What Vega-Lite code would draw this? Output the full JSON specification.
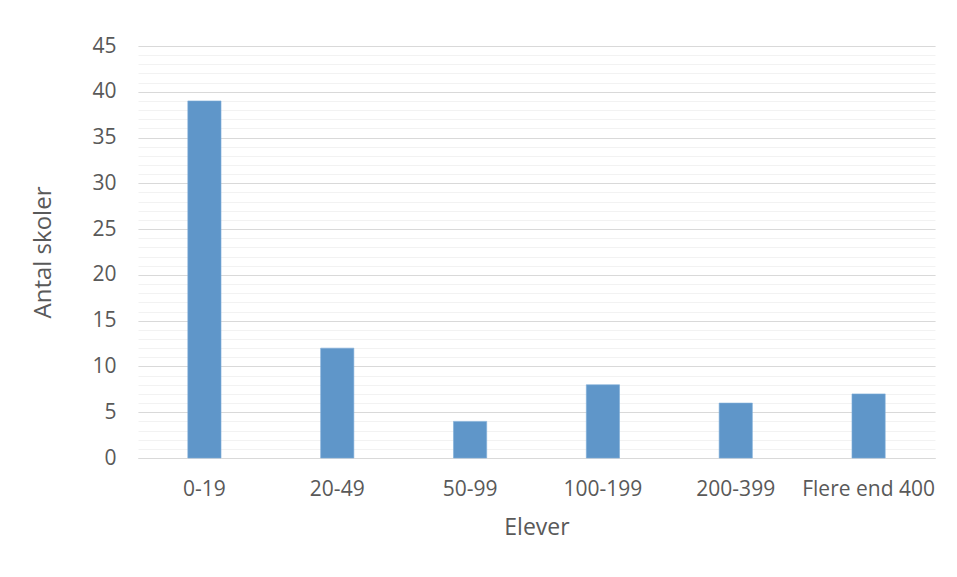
{
  "$schema": "https://vega.github.io/schema/vega-lite/v6.json",
  "autosize": {"type": "none"},
  "width": 797,
  "height": 412,
  "padding": {"left": 138, "top": 46, "right": 22, "bottom": 119},
  "background": "white",
  "config": {
    "view": {"stroke": null},
    "font": "Open Sans",
    "axis": {"labelColor": "#595959", "titleColor": "#595959", "labelFont": "Open Sans", "titleFont": "Open Sans", "titleFontWeight": "normal"}
  },
  "data": {
    "values": [
      {"Elever": "0-19", "Antal": 39},
      {"Elever": "20-49", "Antal": 12},
      {"Elever": "50-99", "Antal": 4},
      {"Elever": "100-199", "Antal": 8},
      {"Elever": "200-399", "Antal": 6},
      {"Elever": "Flere end 400", "Antal": 7}
    ]
  },
  "layer": [
    {
      "mark": {"type": "bar", "opacity": 0, "width": {"band": 0.25}},
      "encoding": {
        "x": {"field": "Elever", "type": "nominal", "sort": null,
              "scale": {"paddingInner": 0, "paddingOuter": 0},
              "axis": {"title": "Elever", "labelAngle": 0, "labelFontSize": 21, "labelPadding": 20, "labelLimit": 0,
                       "ticks": false, "domainColor": "#D9D9D9", "domainWidth": 1.2,
                       "titleFontSize": 23, "titlePadding": 17}},
        "y": {"field": "Antal", "type": "quantitative",
              "scale": {"domain": [0, 45], "nice": false, "zero": true},
              "axis": {"orient": "right", "values": [0,1,2,3,4,5,6,7,8,9,10,11,12,13,14,15,16,17,18,19,20,21,22,23,24,25,26,27,28,29,30,31,32,33,34,35,36,37,38,39,40,41,42,43,44,45],
                       "grid": true, "gridColor": "#F2F2F2", "gridWidth": 1, "labels": false, "ticks": false, "domain": false, "title": null}}
      }
    },
    {
      "mark": {"type": "bar", "color": "#5F96C9", "stroke": "#7EADD9", "strokeWidth": 0.6, "width": {"band": 0.25}},
      "encoding": {
        "x": {"field": "Elever", "type": "nominal", "sort": null,
              "scale": {"paddingInner": 0, "paddingOuter": 0},
              "axis": {"title": "Elever", "labelAngle": 0, "labelFontSize": 21, "labelPadding": 20, "labelLimit": 0,
                       "ticks": false, "domainColor": "#D9D9D9", "domainWidth": 1.2,
                       "titleFontSize": 23, "titlePadding": 17}},
        "y": {"field": "Antal", "type": "quantitative",
              "scale": {"domain": [0, 45], "nice": false, "zero": true},
              "axis": {"title": "Antal skoler", "values": [0,5,10,15,20,25,30,35,40,45],
                       "grid": true, "gridColor": "#D9D9D9", "gridWidth": 1.2,
                       "ticks": false, "domain": false, "labelFontSize": 21, "labelPadding": 22,
                       "titleFontSize": 24, "titlePadding": 36}}
      }
    }
  ],
  "resolve": {"axis": {"y": "independent", "x": "shared"}}
}
